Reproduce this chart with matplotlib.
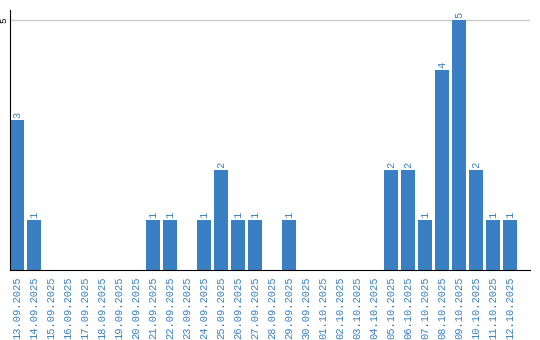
import matplotlib
matplotlib.use("Agg")
import matplotlib.pyplot as plt
import numpy as np

# fechas y valores
dates = ["13.09.2025", "14.09.2025", "15.09.2025", "16.09.2025", "17.09.2025",
         "18.09.2025", "19.09.2025", "20.09.2025", "21.09.2025", "22.09.2025",
         "23.09.2025", "24.09.2025", "25.09.2025", "26.09.2025", "27.09.2025",
         "28.09.2025", "29.09.2025", "30.09.2025", "01.10.2025", "02.10.2025",
         "03.10.2025", "04.10.2025", "05.10.2025", "06.10.2025", "07.10.2025",
         "08.10.2025", "09.10.2025", "10.10.2025", "11.10.2025", "12.10.2025"]
counts = [3, 1, 0, 0, 0, 0, 0, 0, 1, 1,
          0, 1, 2, 1, 1, 0, 1, 0, 0, 0,
          0, 0, 2, 2, 1, 4, 5, 2, 1, 1]

blue = "#3a7fc4"
mono = "Liberation Mono"

fig = plt.figure(figsize=(5.4, 3.4), dpi=100)
ax = fig.add_axes([10/540, 70/340, 520/540, 260/340])

x = np.arange(len(dates))
bars = ax.bar(x, counts, width=14/17, color=blue, zorder=2)

# etiquetas encima de cada barra
for xi, v in zip(x, counts):
    if v > 0:
        ax.annotate(str(v), (xi, v), xytext=(0, 1.5), textcoords="offset points",
                    rotation=90, ha="center", va="bottom", fontsize=7.5,
                    color=blue, family=mono)

ax.set_xlim(-0.41, 30.18)
ax.set_ylim(0, 5.2)
ax.set_yticks([5])
ax.set_yticklabels(["5"], rotation=90, va="center", ha="right", fontsize=6.5,
                   family=mono)
ax.yaxis.grid(True, color="#cccccc", linewidth=1, zorder=0)
ax.set_xticks(x)
ax.set_xticklabels(dates, rotation=90, fontsize=7.5, color=blue,
                   family=mono, va="top", ha="center")
ax.tick_params(axis="both", length=0)
ax.tick_params(axis="x", pad=4.5)
ax.tick_params(axis="y", pad=1)

ax.spines["top"].set_visible(False)
ax.spines["right"].set_visible(False)
ax.spines["left"].set_color("black")
ax.spines["bottom"].set_color("black")

fig.savefig("out.png", dpi=100)
